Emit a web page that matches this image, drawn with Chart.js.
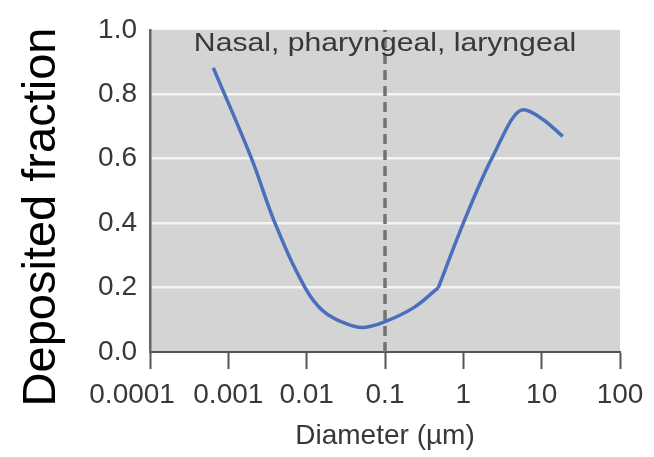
<!DOCTYPE html>
<html>
<head>
<meta charset="utf-8">
<script src="https://cdn.jsdelivr.net/npm/chart.js@4.4.1/dist/chart.umd.min.js"></script>
<style>
  html, body { margin: 0; padding: 0; background: #ffffff; }
  #wrap { width: 654px; height: 457px; }
</style>
</head>
<body>
<div id="wrap"><canvas id="chart" width="654" height="457"></canvas></div>
<script>
// Deposition curve, fine-particle branch (diameter in µm, deposited fraction)
const diameterFine = [0.000643, 0.00198, 0.00394, 0.00953, 0.0163, 0.0324, 0.0528, 0.095, 0.23, 0.48];
const fractionFine = [0.882, 0.60, 0.40, 0.20, 0.127, 0.087, 0.076, 0.092, 0.137, 0.20];

// Coarse-particle branch, starting at the kink near 0.5 µm
const diameterCoarse = [0.48, 1.0, 2.3, 5.83, 10.5, 18.6];
const fractionCoarse = [0.20, 0.40, 0.60, 0.752, 0.721, 0.669];

// Vertical reference line
const cutoffDiameter = 0.1;
const cutoffSpan = [0, 1];

// Axis ticks
const xTickValues = [0.0001, 0.001, 0.01, 0.1, 1, 10, 100];
const xTickLabels = ['0.0001', '0.001', '0.01', '0.1', '1', '10', '100'];
const yTickValues = [0, 0.2, 0.4, 0.6, 0.8, 1.0];
const yTickLabels = ['0.0', '0.2', '0.4', '0.6', '0.8', '1.0'];

const regionLabel = 'Nasal, pharyngeal, laryngeal';
const yTitle = 'Deposited fraction';
const xTitle = 'Diameter (µm)';

const FONT = '"Liberation Sans", Arial, Helvetica, sans-serif';
const CURVE = '#4a6fbb';
const TEXT = '#383838';

const toPoints = (xs, ys) => xs.map((x, i) => ({ x: x, y: ys[i] }));

// Grey panel behind the plot
const panelBackground = {
  id: 'panelBackground',
  beforeDraw(chart) {
    const { ctx, chartArea: a } = chart;
    ctx.save();
    ctx.fillStyle = '#d4d4d4';
    ctx.fillRect(a.left, a.top, a.right - a.left, a.bottom - a.top);
    ctx.restore();
  }
};

// Region caption and the large vertical axis title
const captions = {
  id: 'captions',
  afterDatasetsDraw(chart) {
    const { ctx } = chart;
    const xs = chart.scales.x;
    ctx.save();
    ctx.fillStyle = TEXT;
    ctx.font = '26px ' + FONT;
    ctx.textAlign = 'center';
    ctx.textBaseline = 'alphabetic';
    ctx.translate(xs.getPixelForValue(cutoffDiameter), 51);
    ctx.scale(1.16, 1);
    ctx.fillText(regionLabel, 0, 0);
    ctx.restore();
  },
  afterDraw(chart) {
    const { ctx } = chart;
    ctx.save();
    ctx.fillStyle = '#000000';
    ctx.font = '47px ' + FONT;
    ctx.textAlign = 'center';
    ctx.textBaseline = 'alphabetic';
    ctx.translate(55, 217);
    ctx.rotate(-Math.PI / 2);
    ctx.fillText(yTitle, 0, 0);
    ctx.restore();
  }
};

new Chart(document.getElementById('chart'), {
  type: 'line',
  data: {
    datasets: [
      {
        data: cutoffSpan.map(y => ({ x: cutoffDiameter, y: y })),
        borderColor: '#727272',
        borderWidth: 3.5,
        borderDash: [10, 6],
        pointRadius: 0,
        tension: 0
      },
      {
        data: toPoints(diameterFine, fractionFine),
        borderColor: CURVE,
        borderWidth: 3.5,
        pointRadius: 0,
        tension: 0.4
      },
      {
        data: toPoints(diameterCoarse, fractionCoarse),
        borderColor: CURVE,
        borderWidth: 3.5,
        pointRadius: 0,
        cubicInterpolationMode: 'monotone'
      }
    ]
  },
  options: {
    responsive: false,
    animation: false,
    devicePixelRatio: 1,
    layout: { padding: { left: 0, right: 34, top: 21, bottom: 0 } },
    plugins: { legend: { display: false }, tooltip: { enabled: false } },
    scales: {
      x: {
        type: 'logarithmic',
        min: 0.0001,
        max: 100,
        afterBuildTicks: s => { s.ticks = xTickValues.map(v => ({ value: v })); },
        afterFit: s => { s.height = 105; },
        ticks: {
          autoSkip: false,
          maxRotation: 0,
          padding: 9,
          color: TEXT,
          font: { family: FONT, size: 28 },
          // the first label sits left of its tick so it clears its neighbour
          callback: (v, i) => i === 0 ? xTickLabels[i] + '\u2002\u2002 ' : xTickLabels[i]
        },
        grid: { drawOnChartArea: false, drawTicks: true, tickLength: 17, tickColor: '#555555', tickWidth: 2 },
        border: { color: '#555555', width: 2 },
        title: {
          display: true,
          text: xTitle,
          color: TEXT,
          font: { family: FONT, size: 28 },
          padding: { top: 0, bottom: 4 }
        }
      },
      y: {
        min: 0,
        max: 1,
        afterBuildTicks: s => { s.ticks = yTickValues.map(v => ({ value: v })); },
        afterFit: s => { s.width = 150; },
        ticks: {
          padding: 13,
          color: TEXT,
          font: { family: FONT, size: 28 },
          callback: (v, i) => yTickLabels[i]
        },
        grid: {
          drawTicks: false,
          lineWidth: 2.5,
          color: c => (c.tick && c.tick.value > 0 && c.tick.value < 1) ? '#f4f4f4' : 'rgba(0,0,0,0)'
        },
        border: { color: '#666666', width: 2.5 }
      }
    }
  },
  plugins: [panelBackground, captions]
});
</script>
</body>
</html>
